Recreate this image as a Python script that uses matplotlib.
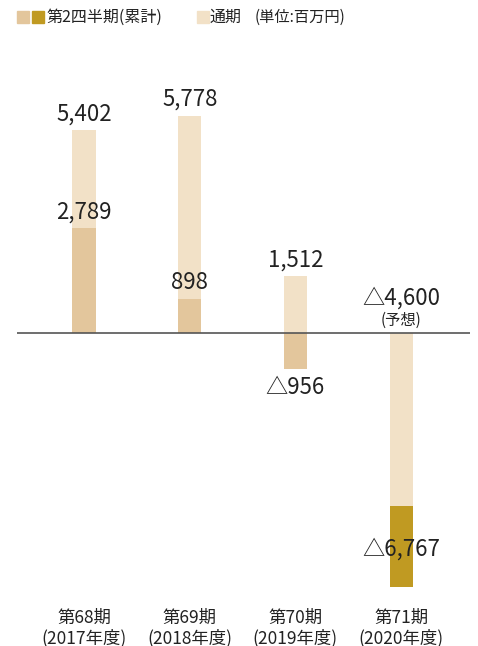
import matplotlib.pyplot as plt
from matplotlib.patches import Rectangle

plt.rcParams['font.family'] = ['Noto Sans CJK JP', 'DejaVu Sans']

# datos (百万円)
periodos = ['第68期\n(2017年度)', '第69期\n(2018年度)', '第70期\n(2019年度)', '第71期\n(2020年度)']
q2 = [2789, 898, -956, -6767]
anual = [5402, 5778, 1512, -4600]
nota_anual = ['', '', '', '(予想)']

c_q2 = '#e3c69c'
c_q2_ult = '#c09a22'
c_anual = '#f2e1c7'
c_txt = '#222222'

def fmt(v):
    return ('△' if v < 0 else '') + f'{abs(v):,}'

fig = plt.figure(figsize=(4.78, 6.46), dpi=100)
H = 646
ax = fig.add_axes([17 / 478, (646 - 600) / H, (470 - 17) / 478, 500 / H])
esc = 203 / 5402
ax.set_ylim(-(600 - 333) / esc, (333 - 100) / esc)
ax.set_xlim(-(84 - 17) / 105.7, (470 - 84) / 105.7)

x = list(range(len(periodos)))
w = 0.218
colores_q2 = [c_q2, c_q2, c_q2, c_q2_ult]

# barras: el ultimo periodo tiene el anual encima del acumulado
for i in x:
    z_anual = 3 if i == 3 else 1
    ax.bar(i, anual[i], width=w, color=c_anual, zorder=z_anual)
    ax.bar(i, q2[i], width=w, color=colores_q2[i], zorder=2)

ax.axhline(0, color='#555555', lw=1.2, zorder=4)

# etiquetas
for i in x:
    a = anual[i]
    if a > 0:
        ax.annotate(fmt(a), (i, a), xytext=(0, 3.5), textcoords='offset points',
                    ha='center', va='bottom', fontsize=16, color=c_txt)
    else:
        ax.annotate(fmt(a), (i, 0), xytext=(0, 17), textcoords='offset points',
                    ha='center', va='bottom', fontsize=16, color=c_txt)
        ax.annotate(nota_anual[i], (i, 0), xytext=(0, 3), textcoords='offset points',
                    ha='center', va='bottom', fontsize=11, color=c_txt)
    q = q2[i]
    if i == 3:
        ax.text(i, -5748, fmt(q), ha='center', va='center', fontsize=16, color=c_txt, zorder=5)
    elif q > 0:
        ax.annotate(fmt(q), (i, q), xytext=(0, 3.5), textcoords='offset points',
                    ha='center', va='bottom', fontsize=16, color=c_txt)
    else:
        ax.annotate(fmt(q), (i, q), xytext=(0, -5), textcoords='offset points',
                    ha='center', va='top', fontsize=16, color=c_txt)

ax.set_xticks(x)
ax.set_xticklabels(periodos, fontsize=12.5, color=c_txt, linespacing=1.1)
ax.tick_params(axis='x', length=0, pad=6.5)
ax.set_yticks([])
for s in ax.spines.values():
    s.set_visible(False)

# leyenda
def cuadro(px, col):
    fig.patches.append(Rectangle((px / 478, (H - 23) / H), 12 / 478, 12 / H,
                                 transform=fig.transFigure, color=col))
cuadro(17, c_q2)
cuadro(32, c_q2_ult)
fig.text(46 / 478, 1 - 17 / H, '第2四半期(累計)', fontsize=11.5, va='center', color=c_txt)
cuadro(197, c_anual)
fig.text(210 / 478, 1 - 17 / H, '通期', fontsize=11.5, va='center', color=c_txt)
fig.text(255 / 478, 1 - 17 / H, '(単位:百万円)', fontsize=11, va='center', color=c_txt)

fig.savefig('out.png', dpi=100)
